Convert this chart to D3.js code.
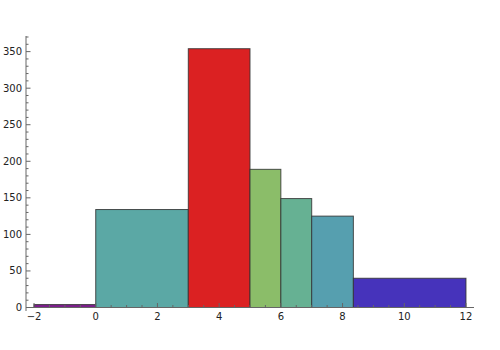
<!DOCTYPE html>
<html><head><meta charset="utf-8">
<script src="https://cdn.jsdelivr.net/npm/d3@7"></script>
<style>body{margin:0;background:#fff}svg{display:block;font-family:"DejaVu Sans",sans-serif}</style>
</head><body>
<script>
const binStarts = [-2, 0, 3, 5, 6, 7, 8.35];
const binEnds   = [0, 3, 5, 6, 7, 8.35, 12];
const counts    = [4, 134, 354, 189, 149, 125, 40];
const colors    = ["#7D1E8C", "#5BA8A5", "#DB2122", "#8BBD69", "#66B193", "#569FAF", "#4633BB"];
const xTicks = [-2, 0, 2, 4, 6, 8, 10, 12];
const yTicks = [0, 50, 100, 150, 200, 250, 300, 350];

const W = 500, H = 350;
const svg = d3.select("body").append("svg").attr("width", W).attr("height", H);
const x = d3.scaleLinear().domain([-2.26, 12.26]).range([26, 474]);
const y = d3.scaleLinear().domain([0, 370]).range([307.5, 37]);

const bars = binStarts.map((s, i) => ({s, e: binEnds[i], c: counts[i], col: colors[i]}));
svg.append("g").selectAll("rect").data(bars).enter().append("rect")
  .attr("x", d => x(d.s)).attr("width", d => x(d.e) - x(d.s))
  .attr("y", d => y(d.c)).attr("height", d => y(0) - y(d.c))
  .attr("fill", d => d.col).attr("stroke", "#333").attr("stroke-opacity", 0.85).attr("stroke-width", 1);

const axisCol = "#666";
// x axis
const gx = svg.append("g");
gx.append("line").attr("x1", 26).attr("x2", 474).attr("y1", y(0)).attr("y2", y(0)).attr("stroke", axisCol);
const xMinor = d3.range(-2, 12.01, 0.5).filter(v => v % 2 !== 0);
gx.selectAll(".xm").data(xMinor).enter().append("line")
  .attr("x1", d => x(d)).attr("x2", d => x(d)).attr("y1", y(0)).attr("y2", y(0) - 2.5).attr("stroke", axisCol);
gx.selectAll(".xM").data(xTicks).enter().append("line")
  .attr("x1", d => x(d)).attr("x2", d => x(d)).attr("y1", y(0)).attr("y2", y(0) - 4.5).attr("stroke", axisCol);
gx.selectAll("text").data(xTicks).enter().append("text")
  .attr("x", d => x(d)).attr("y", 320).attr("text-anchor", "middle").attr("font-size", 10).attr("fill", "#222")
  .text(d => d < 0 ? "\u2212" + Math.abs(d) : d);

// y axis
const gy = svg.append("g");
gy.append("line").attr("x1", 26).attr("x2", 26).attr("y1", 36).attr("y2", 311).attr("stroke", axisCol);
const yMinor = d3.range(0, 371, 10).filter(v => v % 50 !== 0);
gy.selectAll(".ym").data(yMinor).enter().append("line")
  .attr("x1", 26).attr("x2", 28.5).attr("y1", d => y(d)).attr("y2", d => y(d)).attr("stroke", axisCol);
gy.selectAll(".yM").data(yTicks).enter().append("line")
  .attr("x1", 26).attr("x2", 30.5).attr("y1", d => y(d)).attr("y2", d => y(d)).attr("stroke", axisCol);
gy.selectAll("text").data(yTicks).enter().append("text")
  .attr("x", 22).attr("y", d => y(d) + 3.5).attr("text-anchor", "end").attr("font-size", 10).attr("fill", "#222")
  .text(d => d);
</script>
</body></html>
